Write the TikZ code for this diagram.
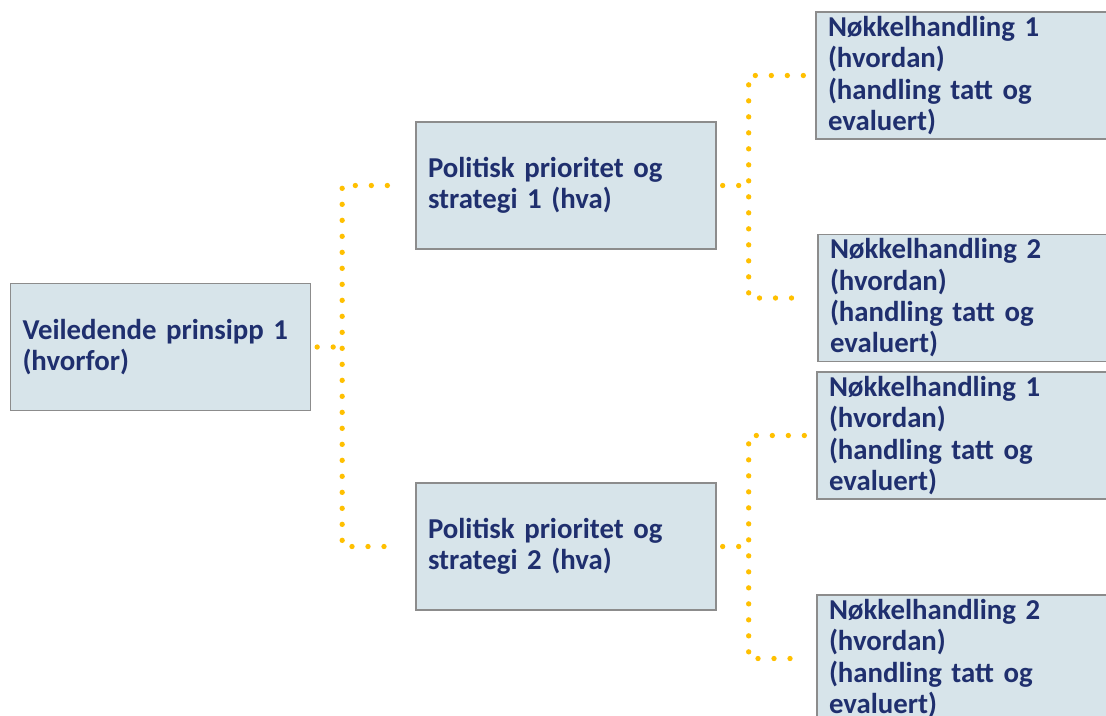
\documentclass[tikz,border=0pt]{standalone}
\usepackage{fontspec}
\setmainfont{Carlito}
\usetikzlibrary{calc}
\definecolor{boxfill}{HTML}{D7E4EA}
\definecolor{boxline}{HTML}{8C8C8C}
\definecolor{textblue}{HTML}{1F2F6E}
\definecolor{dotgold}{HTML}{FFC000}
\tikzset{
  planbox/.style={draw=boxline, line width=1pt, fill=boxfill, text=textblue,
    font=\fontsize{21.6pt}{23.5pt}\selectfont\bfseries, align=left,
    text width=207pt, inner xsep=9pt, inner ysep=0pt, minimum height=95.25pt},
  dotline/.style={draw=dotgold, line width=4pt, line cap=round,
    dash pattern=on 0pt off 12pt}
}
\begin{document}
\begin{tikzpicture}[x=0.75pt, y=-0.75pt]
        % Setup the frame
        \useasboundingbox (0,0) rectangle (1106,715);
        \clip (0,0) rectangle (1106,715);
        \fill[white] (0,0) rectangle (1106,715);

        % Boxes
        \node[planbox] (prinsipp) at (160.5,347) {Veiledende prinsipp 1\\(hvorfor)};
        \node[planbox] (strategi1) at (566,185.5) {Politisk prioritet og\\strategi 1 (hva)};
        \node[planbox] (strategi2) at (566,546.5) {Politisk prioritet og\\strategi 2 (hva)};
        \node[planbox] (handling1a) at (966,75.5) {Nøkkelhandling 1\\(hvordan)\\(handling tatt og\\evaluert)};
        \node[planbox] (handling1b) at (968,298) {Nøkkelhandling 2\\(hvordan)\\(handling tatt og\\evaluert)};
        \node[planbox] (handling2a) at (967,435.5) {Nøkkelhandling 1\\(hvordan)\\(handling tatt og\\evaluert)};
        \node[planbox] (handling2b) at (967,658.5) {Nøkkelhandling 2\\(hvordan)\\(handling tatt og\\evaluert)};

        % Junctions
        \coordinate (j0) at ($(prinsipp.east)+(31,0)$);
        \coordinate (j1) at ($(strategi1.east)+(32,0)$);
        \coordinate (j2) at ($(strategi2.east)+(32,0)$);

        % Dotted connectors
        \draw[dotline] ($(prinsipp.east)+(6,0)$) -- ($(prinsipp.east)+(23,0)$);
        \draw[dotline] ($(strategi1.west)+(-28,0)$) -| (j0) |- ($(strategi2.west)+(-18,0)$);
        \draw[dotline] ($(strategi1.east)+(6,0)$) -- ($(strategi1.east)+(23,0)$);
        \draw[dotline] ($(handling1a.west)+(-12,0)$) -| (j1) |- ($(handling1b.west)+(-12,0)$);
        \draw[dotline] ($(strategi2.east)+(6,0)$) -- ($(strategi2.east)+(23,0)$);
        \draw[dotline] ($(handling2a.west)+(-12,0)$) -| (j2) |- ($(handling2b.west)+(-12,0)$);

\end{tikzpicture}
\end{document}
